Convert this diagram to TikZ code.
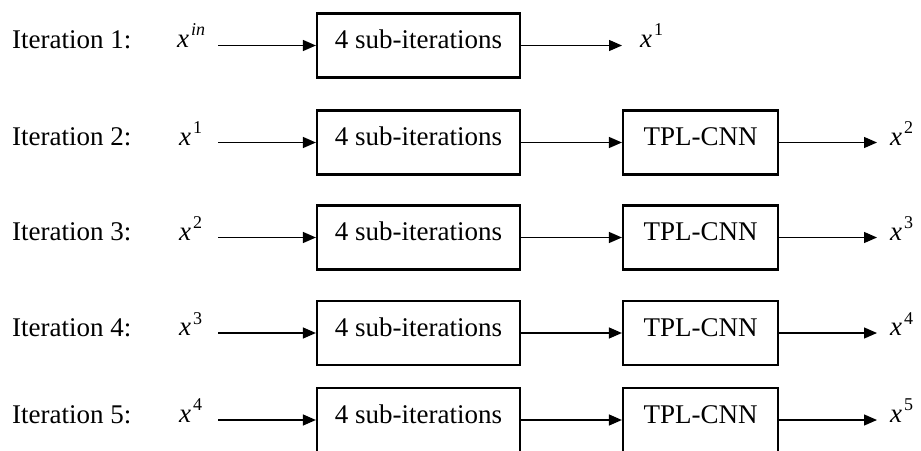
\documentclass[tikz,border=0pt]{standalone}
\usepackage{fontspec}
\setmainfont{Liberation Serif}
\usetikzlibrary{arrows.meta}
\newcommand\xvar[1]{\textit{x}\kern2pt\raisebox{0.42em}{\fontsize{18}{18}\selectfont #1}}
\begin{document}
\begin{tikzpicture}[x=1pt,y=-1pt,
  every node/.style={font=\fontsize{27}{32}\selectfont},
  blk/.style={draw,line width=2.2pt,minimum height=64pt,inner sep=0pt,text height=18pt,text depth=12pt},
  subblk/.style={blk,minimum width=203pt},
  cnnblk/.style={blk,minimum width=155pt},
  lab/.style={anchor=base west,inner sep=0pt},
  conn/.style={line width=1.3pt,-{Triangle[length=13pt,width=11pt]}}]
\useasboundingbox (0,0) rectangle (921,450);
\foreach \r/\y in {1/45.5,2/142.5,3/237.5,4/333,5/420}{
  \node[lab] (it\r) at (12,\y+3) {Iteration \r:};
}
\node[lab] (in1) at (177,47) {\xvar{\textit{in}}};
\node[lab] (in2) at (179,145) {\xvar{1}};
\node[lab] (in3) at (179,240) {\xvar{2}};
\node[lab] (in4) at (179,335.5) {\xvar{3}};
\node[lab] (in5) at (179,422) {\xvar{4}};
\foreach \r/\y in {1/45.5,2/142.5,3/237.5,4/333,5/420}{
  \coordinate (s\r) at (218,\y);
  \node[subblk] (sub\r) at (418.5,\y) {4 sub-iterations};
  \draw[conn] (s\r) -- (sub\r.west);
}
\node[lab] (out1) at (640,47) {\xvar{1}};
\coordinate (e1) at (622,45.5);
\draw[conn] (sub1.east) -- (e1);
\foreach \r/\y in {2/142.5,3/237.5,4/333,5/420}{
  \node[cnnblk] (cnn\r) at (700.5,\y) {TPL-CNN};
  \draw[conn] (sub\r.east) -- (cnn\r.west);
  \coordinate (e\r) at (877,\y);
  \draw[conn] (cnn\r.east) -- (e\r);
}
\node[lab] (out2) at (890,145) {\xvar{2}};
\node[lab] (out3) at (890,240) {\xvar{3}};
\node[lab] (out4) at (890,335.5) {\xvar{4}};
\node[lab] (out5) at (890,422) {\xvar{5}};
\end{tikzpicture}
\end{document}
